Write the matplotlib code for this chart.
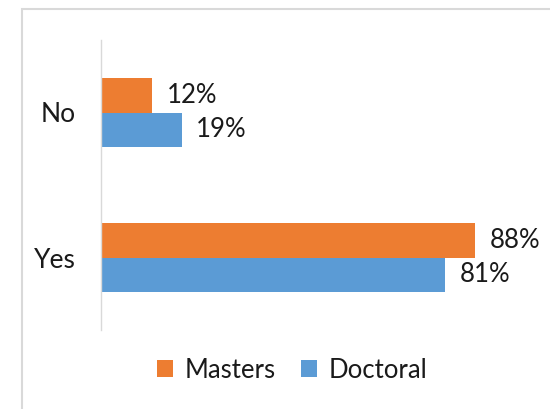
import numpy as np
import matplotlib.pyplot as plt
from matplotlib.patches import Rectangle

categories = ['Yes', 'No']
masters = [88, 12]
doctoral = [81, 19]
colors = {'Masters': '#ED7D31', 'Doctoral': '#5B9BD5'}

W, H = 550, 409
plt.rcParams['font.family'] = ['Lato', 'DejaVu Sans']

fig = plt.figure(figsize=(W / 100, H / 100), dpi=100)
# chart frame (cropped at right/bottom in the reference)
fig.patches.append(Rectangle((22 / W, -0.1), 1.2, 1.1 - 9 / H, transform=fig.transFigure,
                             fill=False, edgecolor='#D9D9D9', linewidth=1.5))

ax = fig.add_axes([101 / W, 1 - 330 / H, 425 / W, 290 / H])
y = np.arange(len(categories))
h = 0.235
b_m = ax.barh(y + h / 2, masters, height=h, color=colors['Masters'], label='Masters')
b_d = ax.barh(y - h / 2, doctoral, height=h, color=colors['Doctoral'], label='Doctoral')

for bars, vals in [(b_m, masters), (b_d, doctoral)]:
    for bar, v in zip(bars, vals):
        ax.text(bar.get_width() + 3.4, bar.get_y() + bar.get_height() / 2, f'{v}%',
                va='center', ha='left', fontsize=18.5, color='#1a1a1a')

ax.set_xlim(0, 100)
ax.set_ylim(-0.5, 1.5)
ax.set_yticks(y)
ax.set_yticklabels(categories, fontsize=19, color='#1a1a1a')
ax.tick_params(axis='y', length=0, pad=18)
ax.set_xticks([])
for s in ['top', 'right', 'bottom']:
    ax.spines[s].set_visible(False)
ax.spines['left'].set_color('#D9D9D9')
ax.spines['left'].set_linewidth(1)

fig.legend(handles=[b_m, b_d], loc='center', bbox_to_anchor=(292 / W, 1 - 370 / H),
           ncol=2, frameon=False, fontsize=18.5, handlelength=0.62, handleheight=0.62,
           handletextpad=0.45, columnspacing=1.0, labelcolor='#1a1a1a')

fig.savefig('out.png', dpi=100)
